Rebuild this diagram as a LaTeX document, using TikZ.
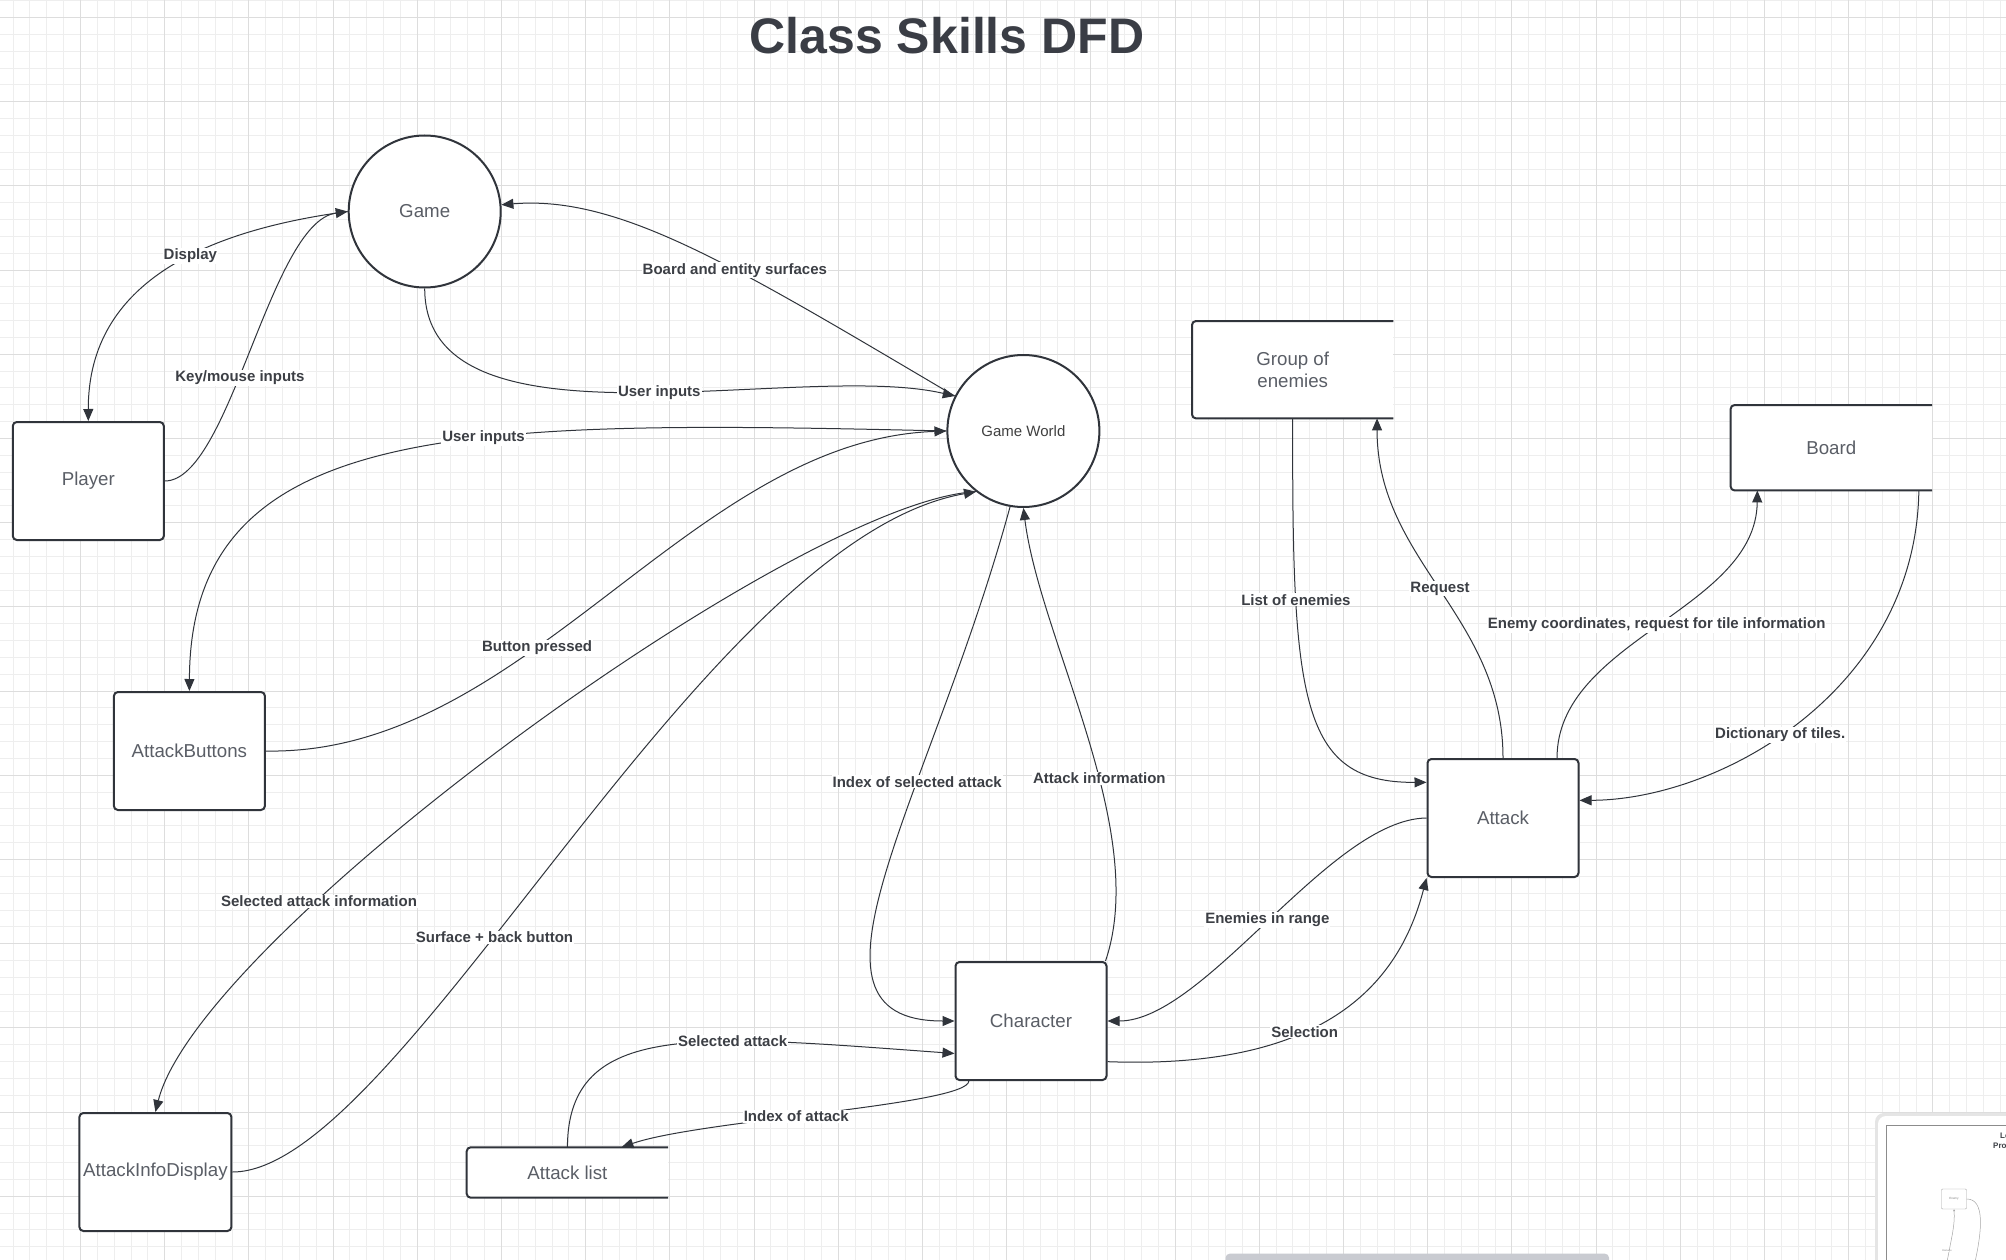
\documentclass[tikz,border=0pt]{standalone}
\usepackage{fontspec}
\setmainfont{Liberation Sans}
\usetikzlibrary{arrows.meta}

\definecolor{dfdline}{HTML}{30343B}
\definecolor{nodetxt}{HTML}{5A5E66}
\definecolor{lbltxt}{HTML}{3C3F45}
\definecolor{titletxt}{HTML}{3A3D45}
\definecolor{gridmin}{HTML}{EEEEEE}
\definecolor{gridmaj}{HTML}{DDDDDD}
\definecolor{scrollc}{HTML}{C9CBD1}

\newcommand\dfdnodefont{\fontsize{18.7}{22}\selectfont}
\newcommand\dfdlblfont{\fontsize{15}{18}\selectfont\bfseries}

\begin{document}
\begin{tikzpicture}[x=1pt, y=-1pt,
	proc/.style={circle, draw=dfdline, line width=2pt, fill=white, minimum size=152pt, inner sep=0pt, text=nodetxt, font=\dfdnodefont},
	entity/.style={rectangle, rounded corners=4pt, draw=dfdline, line width=2pt, fill=white, minimum width=151pt, minimum height=118pt, inner sep=0pt, text=nodetxt, font=\dfdnodefont},
	store/.style={rectangle, fill=white, minimum width=201pt, inner sep=0pt, text=nodetxt, font=\dfdnodefont, align=center},
	storeline/.style={draw=dfdline, line width=2pt, rounded corners=4pt},
	flow/.style={draw=dfdline, line width=1pt, -{Triangle[length=12pt, width=10pt]}},
	lbl/.style={fill=white, text=lbltxt, font=\dfdlblfont, inner sep=1pt}]

	\useasboundingbox (0,0) rectangle (2006,1260);
	\fill[white] (0,0) rectangle (2006,1260);

	% grid
	\foreach \i in {0,...,119}
		\draw[gridmin, line width=1pt] ({round(12.64+16.84*\i)+0.5}, 0) -- ({round(12.64+16.84*\i)+0.5}, 1260);
	\foreach \i in {0,...,75}
		\draw[gridmin, line width=1pt] (0, {round(0.16+16.84*\i)+0.5}) -- (2006, {round(0.16+16.84*\i)+0.5});
	\foreach \i in {0,...,23}
		\draw[gridmaj, line width=1pt] ({round(80+84.2*\i)+0.5}, 0) -- ({round(80+84.2*\i)+0.5}, 1260);
	\foreach \i in {0,...,14}
		\draw[gridmaj, line width=1pt] (0, {round(17+84.2*\i)+0.5}) -- (2006, {round(17+84.2*\i)+0.5});

	\node[font=\fontsize{50}{60}\selectfont\bfseries, text=titletxt] (title) at (947,36) {Class Skills DFD};

	% processes and entities
	\node[proc] (game) at (424.7,211.5) {Game};
	\node[proc, font=\fontsize{15}{18}\selectfont, text=black!75] (world) at (1023.4,431) {Game World};
	\node[entity] (player) at (88.3,481) {Player};
	\node[entity] (buttons) at (189.4,751) {AttackButtons};
	\node[entity, minimum width=152pt] (infodisp) at (155.4,1172) {AttackInfoDisplay};
	\node[entity] (char) at (1031,1021) {Character};
	\node[entity] (attack) at (1503,818) {Attack};

	% data stores
	\node[store, minimum height=97pt] (enemies) at (1292.7,369.7) {Group of\\enemies};
	\node[store, minimum height=85pt] (board) at (1831.3,447.75) {Board};
	\node[store, minimum height=50pt] (alist) at (567.4,1172.5) {Attack list};
	\foreach \s in {enemies, board, alist}
		\draw[storeline] (\s.north east) -- (\s.north west) -- (\s.south west) -- (\s.south east);

	% flows
	\draw[flow] (game.west) .. controls (210,230) and (88,280) .. (player.north) node[lbl, pos=0.42] (l1) {Display};
	\draw[flow] (player.east) .. controls (230,481) and (270,222) .. (game.west) node[lbl, pos=0.43] (l2) {Key/mouse inputs};
	\draw[flow] (world.153) .. controls (736,267) and (620,195) .. (game.5) node[lbl, pos=0.4] (l3) {Board and entity surfaces};
	\draw[flow] (game.south) .. controls (425,460) and (800,360) .. (world.153) node[lbl, pos=0.54] (l4) {User inputs};
	\draw[flow] (world.west) .. controls (470,420) and (190,418) .. (buttons.north) node[lbl, pos=0.39] (l5) {User inputs};
	\draw[flow] (buttons.east) .. controls (525,756) and (690,440) .. (world.west) node[lbl, pos=0.39] (l6) {Button pressed};
	\draw[flow] (world.232) .. controls (800,500) and (200,935) .. (infodisp.north) node[lbl, pos=0.7] (l7) {Selected attack information};
	\draw[flow] (infodisp.east) .. controls (400,1172) and (700,540) .. (world.232) node[lbl, pos=0.41] (l8) {Surface + back button};
	\draw[flow] (world.260) .. controls (930,800) and (780,1021) .. (char.west) node[lbl, pos=0.35] (l9) {Index of selected attack};
	\draw[flow] ([xshift=-2pt]char.north east) .. controls (1150,830) and (1040,640) .. (world.south) node[lbl, pos=0.41] (l10) {Attack information};
	\draw[flow] (alist.north) .. controls (568,1020) and (700,1035) .. (char.203) node[lbl, pos=0.65] (l11) {Selected attack};
	\draw[flow] (char.224) .. controls (968,1105) and (700,1120) .. (alist.25) node[lbl, pos=0.56] (l12) {Index of attack};
	\draw[flow] (attack.west) .. controls (1330,819) and (1205,1021) .. (char.east) node[lbl, pos=0.5] (l13) {Enemies in range};
	\draw[flow] (char.-28.5) .. controls (1330,1070) and (1400,980) .. (attack.south west) node[lbl, pos=0.39] (l14) {Selection};
	\draw[flow] (enemies.south) .. controls (1292,700) and (1300,783) .. (attack.155) node[lbl, pos=0.26] (l15) {List of enemies};
	\draw[flow] (attack.north) .. controls (1503,616) and (1377,561) .. (enemies.-30) node[lbl, pos=0.5] (l16) {Request};
	\draw[flow] (attack.48) .. controls (1557,640) and (1756,610) .. (board.210) node[lbl, pos=0.5] (l17) {Enemy coordinates, request for tile information};
	\draw[flow] (board.-26.5) .. controls (1916,690) and (1720,800) .. (attack.13) node[lbl, pos=0.55] (l18) {Dictionary of tiles.};

	% scroll bar and minimap
	\fill[scrollc, rounded corners=4pt] (1225.6,1253.7) rectangle (1609,1268);
	\fill[black!10, rounded corners=9pt] (1875,1113) rectangle (2030,1290);
	\fill[white, rounded corners=8pt] (1878,1116) rectangle (2030,1290);
	\draw[black!45, line width=0.8pt] (1886.7,1125) rectangle (2030,1290);
	\node[draw=black!35, rounded corners=1pt, fill=white, minimum width=25pt, minimum height=20pt, inner sep=0pt, font=\fontsize{3}{3}\selectfont, text=black!50] (mini) at (1954,1199) {Enemy};
	\draw[black!35, line width=0.5pt] (mini.east) .. controls (1985,1199) and (1982,1230) .. (1975,1262);
	\draw[black!35, line width=0.5pt, -{Triangle[length=2pt, width=2pt]}] (1947,1262) .. controls (1952,1235) and (1955,1225) .. (mini.south);
	\node[font=\fontsize{2.5}{3}\selectfont, text=black!50, fill=white, inner sep=0.3pt] (minilbl) at (1947,1251) {Damage};
	\node[anchor=west, font=\fontsize{8}{9}\selectfont\bfseries, text=lbltxt, inner sep=0pt] (minit1) at (2000,1136) {Le};
	\node[anchor=west, font=\fontsize{8}{9}\selectfont\bfseries, text=lbltxt, inner sep=0pt] (minit2) at (1993,1146) {Pro};
\end{tikzpicture}
\end{document}
